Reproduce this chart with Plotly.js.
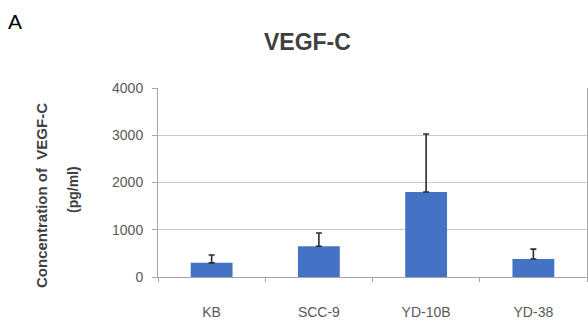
<!DOCTYPE html>
<html>
<head>
<meta charset="utf-8">
<script src="https://cdn.plot.ly/plotly-3.0.1.min.js"></script>
<style>html,body{margin:0;padding:0;background:#fff;}#chart{width:588px;height:321px;}</style>
</head>
<body>
<div id="chart"></div>
<script>
var categories = ["KB", "SCC-9", "YD-10B", "YD-38"];
var values = [300, 650, 1800, 380];
var errUp = [165, 280, 1225, 210];
var errDown = [0, 0, 0, 0];
var yTicks = [0, 1000, 2000, 3000, 4000];

var trace = {
  type: "bar",
  x: categories,
  y: values,
  marker: {color: "#4472C4"},
  width: 0.39,
  error_y: {type: "data", symmetric: false, array: errUp, arrayminus: errDown,
            color: "#2b2b2b", thickness: 1.6, width: 3}
};

var layout = {
  width: 588, height: 321,
  margin: {l: 158, r: 1, t: 88, b: 44},
  paper_bgcolor: "#fff", plot_bgcolor: "#fff",
  showlegend: false,
  font: {family: "Liberation Sans, Arial, sans-serif", color: "#595959"},
  xaxis: {
    type: "category",
    showline: true, linecolor: "#a6a6a6", linewidth: 1,
    ticks: "outside", tickson: "boundaries", ticklen: 4, tickcolor: "#a6a6a6",
    tickfont: {size: 14, color: "#595959"},
    ticklabelstandoff: 22,
    showgrid: false, zeroline: false
  },
  yaxis: {
    range: [0, 4000],
    tickvals: yTicks,
    ticktext: yTicks.map(String),
    showline: true, mirror: true, linecolor: "#a6a6a6", linewidth: 1,
    ticks: "outside", ticklen: 5, tickcolor: "#a6a6a6",
    tickfont: {size: 14, color: "#595959"},
    ticklabelstandoff: 6,
    showgrid: true, gridcolor: "#c9c9c9", gridwidth: 1,
    zeroline: false
  },
  annotations: [
    {text: "A", xref: "paper", yref: "paper", x: -158/429, y: (277-21)/189, xanchor: "left", yanchor: "middle",
     showarrow: false, font: {size: 21, color: "#000", family: "Liberation Sans, Arial, sans-serif"}, xshift: 6},
    {text: "<b>VEGF-C</b>", xref: "paper", yref: "paper", x: (307-158)/429, y: (277-42)/189, xanchor: "center", yanchor: "middle",
     showarrow: false, font: {size: 23, color: "#404040", family: "Liberation Sans, Arial, sans-serif"}},
    {text: "<b>Concentration of  VEGF-C</b>", xref: "paper", yref: "paper", x: (41-158)/429, y: (277-196)/189, xanchor: "center", yanchor: "middle",
     textangle: -90, showarrow: false, font: {size: 15, color: "#404040", family: "Liberation Sans, Arial, sans-serif"}},
    {text: "<b>(pg/ml)</b>", xref: "paper", yref: "paper", x: (73-158)/429, y: (277-190)/189, xanchor: "center", yanchor: "middle",
     textangle: -90, showarrow: false, font: {size: 14, color: "#404040", family: "Liberation Sans, Arial, sans-serif"}}
  ]
};

Plotly.newPlot("chart", [trace], layout, {displayModeBar: false, staticPlot: true});
</script>
</body>
</html>
